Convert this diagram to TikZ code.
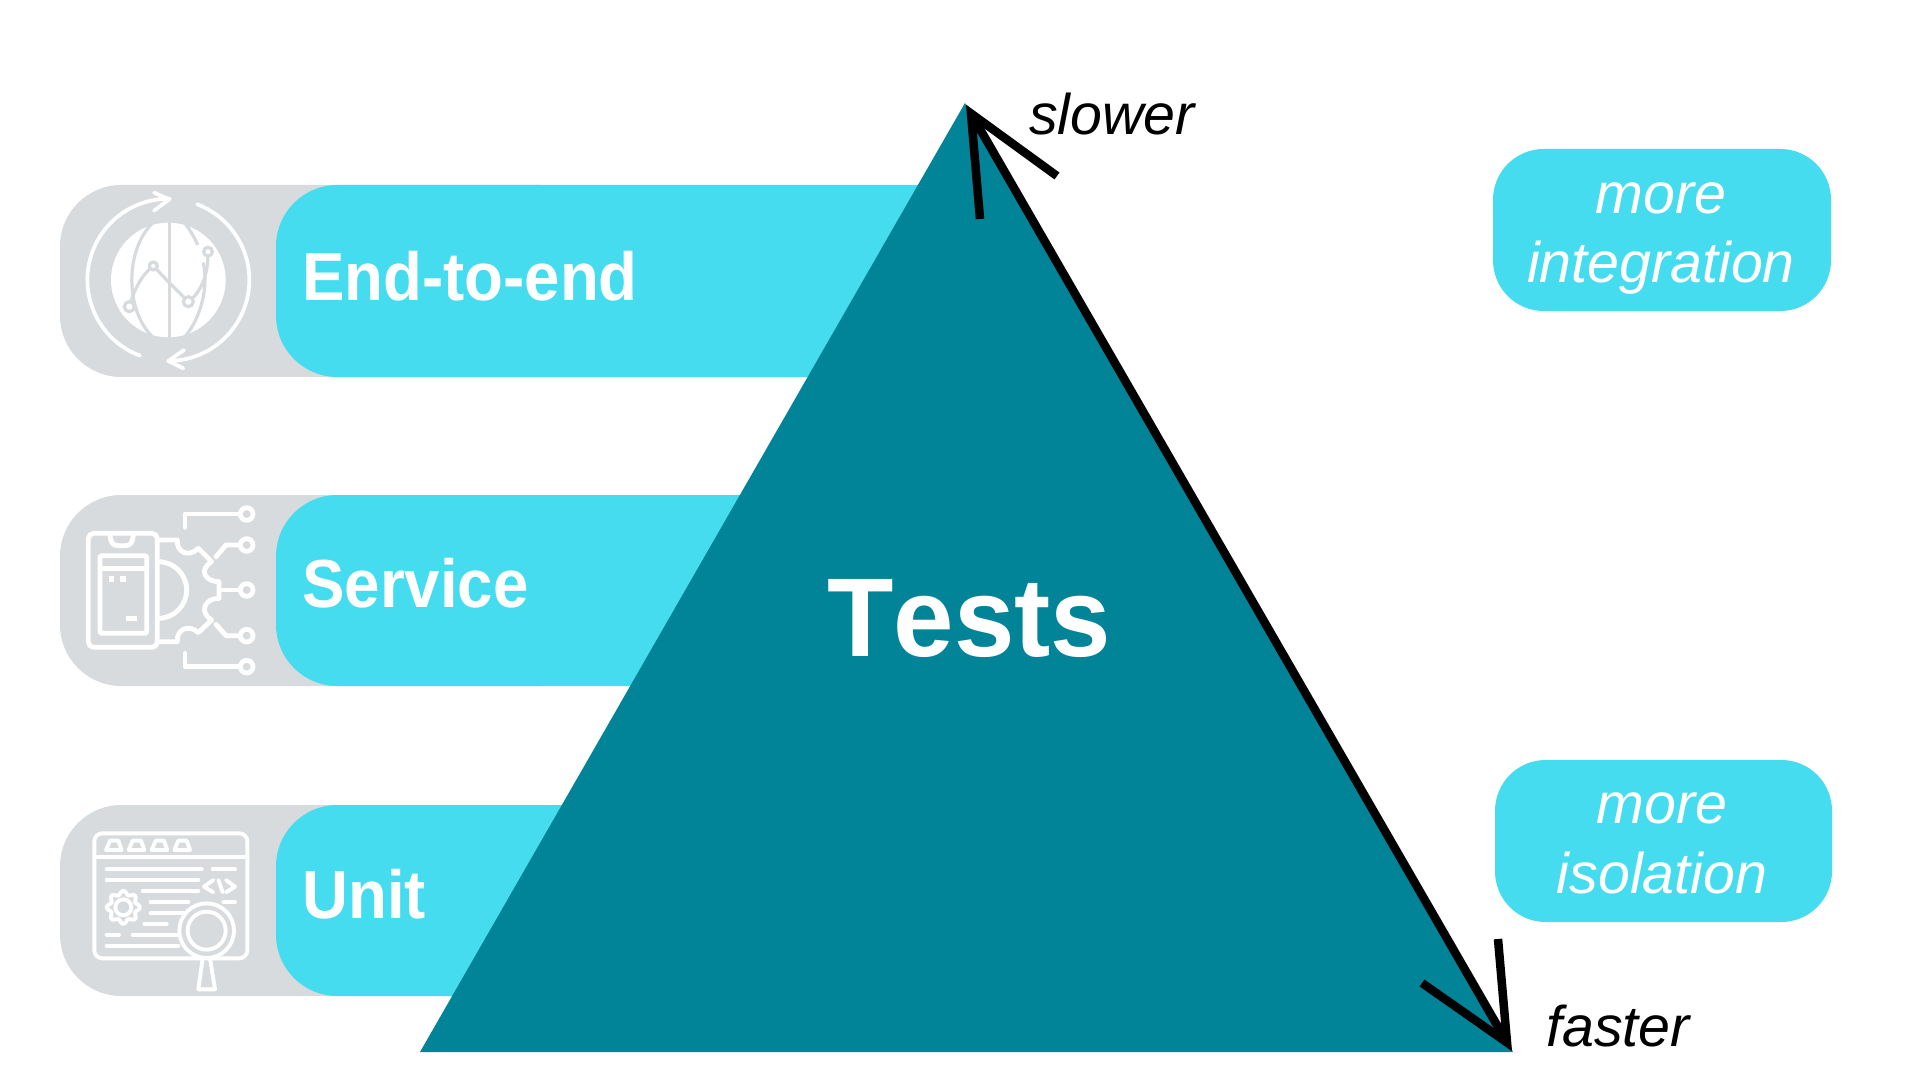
\documentclass[tikz,border=0pt]{standalone}
\usepackage{fontspec}
\setmainfont{Liberation Sans}
\newfontfamily\headfont[FakeStretch=0.935]{Liberation Sans Bold}
\newfontfamily\titlefont[FakeStretch=0.97,Kerning=Off]{Liberation Sans Bold}
\newfontfamily\lightit{Liberation Sans Italic}
\definecolor{pillgrey}{HTML}{D7DBDD}
\definecolor{cyanbar}{HTML}{46DCEF}
\definecolor{tealtri}{HTML}{018498}
\tikzset{
  greypill/.style={fill=pillgrey,rounded corners=46pt},
  cyanpill/.style={fill=cyanbar,rounded corners=46pt},
  notebox/.style={fill=cyanbar,rounded corners=38pt},
  headtext/.style={anchor=base west,text=white,font={\headfont\fontsize{51}{54}\selectfont},inner sep=0pt},
  titletext/.style={anchor=base west,text=white,font={\titlefont\fontsize{84}{90}\selectfont},inner sep=0pt},
  sidetext/.style={anchor=base,text=black,font={\lightit\fontsize{43}{50}\selectfont},inner sep=0pt},
  notetext/.style={anchor=base,text=white,font={\lightit\fontsize{43}{50}\selectfont},inner sep=0pt},
  iconzoom/.style={x=0.25pt,y=-0.25pt},
  icA/.style={draw=white,line width=2.8pt,line cap=round,line join=round},
  icAg/.style={draw=pillgrey,line width=2.4pt,line cap=round,line join=round},
  icB/.style={draw=white,line width=3.6pt,line cap=round,line join=round},
  icC/.style={draw=white,line width=2.9pt,line cap=round,line join=round},
  blackarrow/.style={draw=black,line width=6.4pt,miter limit=20},
}
\begin{document}
\begin{tikzpicture}[x=0.75pt,y=-0.75pt]
\useasboundingbox[fill=white] (0,0) rectangle (1920,1080);
% grey pills
\fill[greypill] (60,185) rectangle (600,377);
\fill[greypill] (60,495) rectangle (600,686);
\fill[greypill] (60,805) rectangle (600,996);
% cyan bars
\fill[cyanpill] (276,185) rectangle (1005,377);
\fill[cyanpill] (276,495) rectangle (1005,686);
\fill[cyanpill] (276,805) rectangle (1005,996);
% triangle
\coordinate (apex) at (965,103);
\coordinate (left) at (420,1052);
\coordinate (right) at (1513,1052);
\fill[tealtri] (apex) -- (right) -- (left) -- cycle;
% arrow
\coordinate (topv) at (971,113.5);
\coordinate (botv) at (1507,1042.5);
\coordinate (topa) at (980,219);
\coordinate (topb) at (1057,176);
\coordinate (bota) at (1498,939);
\coordinate (botb) at (1422,983);
\draw[blackarrow] (topv) -- (botv);
\draw[blackarrow] (topa) -- (topv) -- (topb);
\draw[blackarrow] (bota) -- (botv) -- (botb);
% notes
\fill[notebox] (1493,149) rectangle (1831,311);
\fill[notebox] (1495,760) rectangle (1832,922);
% texts
\node[headtext] (t1) at (302,301) {End-to-end};
\node[headtext] (t2) at (302,607) {Service};
\node[headtext] (t3) at (302,918) {Unit};
\node[titletext] (t4) at (827,656) {Tests};
\node[sidetext] (t5) at (1112,135) {slower};
\node[sidetext] (t6) at (1618,1046) {faster};
\node[notetext] (t7) at (1661,214) {more};
\node[notetext] (t8) at (1661,283) {integration};
\node[notetext] (t9) at (1662,823) {more};
\node[notetext] (t10) at (1662,893) {isolation};
% icon 1
\begin{scope}[shift={(50,170)},iconzoom]
\fill[white] (355,330) circle[radius=172];
\draw[icA] (270,557) arc[start angle=110.5,end angle=271,radius=243];
\draw[icA] (442,103) arc[start angle=-69,end angle=90,radius=243];
\draw[icA] (312,68) -- (358,88) -- (312,122);
\draw[icA] (402,540) -- (355,573) -- (400,595);
\draw[icAg,line cap=butt] (358,150) -- (358,510);
\draw[icAg,line cap=butt] (307,160) .. controls (225,240) and (225,420) .. (307,500);
\draw[icAg,line cap=butt] (405,160) .. controls (420,180) and (435,205) .. (443,225);
\draw[icAg] (460,280) .. controls (475,350) and (455,440) .. (405,500);
\draw[icAg] (238,410) .. controls (255,350) and (280,310) .. (310,288);
\draw[icAg] (310,288) -- (350,330) -- (415,395);
\draw[icAg] (415,395) .. controls (450,370) and (475,320) .. (474,245);
\filldraw[draw=pillgrey,fill=white,line width=2.4pt] (238,410) circle[radius=15];
\filldraw[draw=pillgrey,fill=white,line width=2.4pt] (310,288) circle[radius=12];
\filldraw[draw=pillgrey,fill=white,line width=2.4pt] (415,395) circle[radius=15];
\filldraw[draw=pillgrey,fill=white,line width=2.4pt] (474,245) circle[radius=13];
\end{scope}
% icon 2
\begin{scope}[shift={(50,490)},iconzoom]
\draw[icB,rounded corners=4pt] (115,130) rectangle (322,472);
\draw[icB] (180,135) .. controls (182,160) and (190,167) .. (205,167) -- (225,167) .. controls (240,167) and (248,160) .. (250,135);
\draw[icB,rounded corners=1pt] (150,197) rectangle (290,430);
\draw[icB] (150,235) -- (290,235);
\fill[white] (177,258) rectangle (193,275);
\fill[white] (210,258) rectangle (228,275);
\fill[white] (228,377) rectangle (260,393);
\draw[icB] (325,215) arc[start angle=-90,end angle=90,radius=85];
\draw[icB] (325,150) -- (382,150) .. controls (378,185) and (415,205) .. (445,175) -- (485,215) .. controls (445,240) and (465,275) .. (507,275) -- (507,325) .. controls (465,325) and (445,365) .. (485,390) -- (445,428) .. controls (415,400) and (378,420) .. (382,455) -- (325,455);
\draw[icB] (405,112) -- (405,72) -- (570,72);
\draw[icB] (498,200) -- (528,165) -- (570,165);
\draw[icB] (510,300) -- (570,300);
\draw[icB] (498,403) -- (528,437) -- (570,437);
\draw[icB] (405,490) -- (405,530) -- (570,530);
\foreach \yy in {72,165,300,437,530}{
  \draw[icB] (590,\yy) circle[radius=19];
}
\end{scope}
% icon 3
\begin{scope}[shift={(50,800)},iconzoom]
\draw[icC,rounded corners=6pt] (133,100) rectangle (592,475);
\draw[icC] (133,172) -- (592,172);
\foreach \dx in {0,68,137,205}{
  \draw[icC] (168+\dx,150) -- (180+\dx,122) -- (205+\dx,122) -- (215+\dx,150) -- cycle;
}
\foreach \xa/\xb/\yy in {170/455/208,488/555/208,170/445/240,278/445/273,302/415/306,520/555/306,302/400/339,283/350/371,170/207/404,248/385/404,170/385/437}{
  \draw[icC] (\xa,\yy) -- (\xb,\yy);
}
\draw[icC] (490,240) -- (462,260) -- (490,277);
\draw[icC] (505,240) -- (518,277);
\draw[icC] (528,240) -- (555,260) -- (528,277);
\draw[icC] (220,322) circle[radius=24];
\draw[icC] plot[domain=0:360,samples=145,smooth] ({220+(44+5.5*cos(8*\x))*cos(\x)},{322+(44+5.5*cos(8*\x))*sin(\x)}) -- cycle;
\draw[icC] (458,475) -- (445,568) -- (495,568) -- (480,475);
\filldraw[icC,fill=pillgrey] (470,392) circle[radius=82];
\draw[icC] (470,392) circle[radius=57];
\end{scope}
\end{tikzpicture}
\end{document}
